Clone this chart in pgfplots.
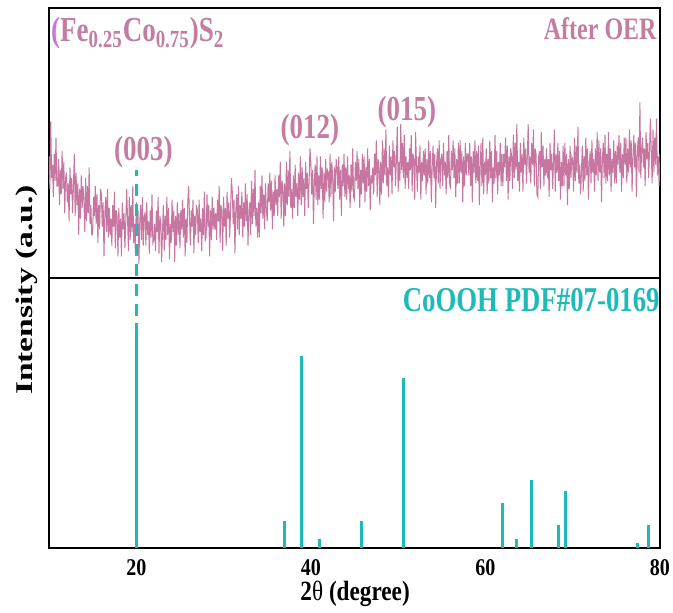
\documentclass[border=0pt]{standalone}
\usepackage{fontspec}
\setmainfont{Liberation Serif}
\usepackage{graphicx}
\usepackage{pgfplots}
\pgfplotsset{compat=1.18}
\definecolor{mauve}{RGB}{198,118,160}
\definecolor{mauvetxt}{RGB}{196,124,160}
\definecolor{violetp}{RGB}{200,120,220}
\definecolor{tealc}{RGB}{30,186,186}
\newcommand{\st}[1]{\scalebox{1}[1.3]{#1}}
\newcommand{\sts}[1]{\scalebox{1}[1.2]{#1}}
\begin{document}
\begin{tikzpicture}
\useasboundingbox (-24.5pt,-32.5pt) rectangle (312pt,274pt);
\begin{axis}[name=top, at={(0pt,135pt)}, anchor=south west, scale only axis,
  width=305.5pt, height=135pt, xmin=10, xmax=80, ymin=0, ymax=1,
  xtick=\empty, ytick=\empty, axis line style={line width=1.1pt}]
\addplot[mauve, line width=0.5pt] coordinates {
(10.0,.45)(10.1,.33)(10.2,.58)(10.3,.37)(10.4,.42)(10.5,.30)(10.6,.46)(10.7,.36)(10.8,.52)(10.9,.34)
(11.0,.34)(11.1,.44)(11.2,.27)(11.3,.40)(11.4,.31)(11.5,.47)(11.6,.33)(11.7,.43)(11.8,.24)(11.9,.37)
(12.0,.39)(12.1,.28)(12.2,.35)(12.3,.21)(12.4,.41)(12.5,.31)(12.6,.37)(12.7,.24)(12.8,.34)(12.9,.46)
(13.0,.23)(13.1,.39)(13.2,.27)(13.3,.35)(13.4,.16)(13.5,.33)(13.6,.22)(13.7,.38)(13.8,.26)(13.9,.34)
(14.0,.29)(14.1,.17)(14.2,.37)(14.3,.21)(14.4,.34)(14.5,.24)(14.6,.41)(14.7,.20)(14.8,.27)(14.9,.16)
(15.0,.16)(15.1,.30)(15.2,.23)(15.3,.34)(15.4,.20)(15.5,.31)(15.6,.13)(15.7,.27)(15.8,.18)(15.9,.33)
(16.0,.31)(16.1,.19)(16.2,.28)(16.3,.08)(16.4,.24)(16.5,.30)(16.6,.17)(16.7,.33)(16.8,.15)(16.9,.26)
(17.0,.16)(17.1,.22)(17.2,.12)(17.3,.27)(17.4,.19)(17.5,.32)(17.6,.11)(17.7,.25)(17.8,.23)(17.9,.08)
(18.0,.26)(18.1,.15)(18.2,.22)(18.3,.08)(18.4,.28)(18.5,.18)(18.6,.24)(18.7,.11)(18.8,.21)(18.9,.33)
(19.0,.22)(19.1,.10)(19.2,.30)(19.3,.14)(19.4,.27)(19.5,.17)(19.6,.34)(19.7,.13)(19.8,.20)(19.9,.09)
(20.0,.28)(20.1,.16)(20.2,.25)(20.3,.05)(20.4,.21)(20.5,.27)(20.6,.14)(20.7,.30)(20.8,.12)(20.9,.23)
(21.0,.24)(21.1,.12)(21.2,.28)(21.3,.16)(21.4,.21)(21.5,.09)(21.6,.25)(21.7,.15)(21.8,.31)(21.9,.13)
(22.0,.14)(22.1,.20)(22.2,.10)(22.3,.25)(22.4,.17)(22.5,.30)(22.6,.09)(22.7,.23)(22.8,.21)(22.9,.06)
(23.0,.17)(23.1,.27)(23.2,.10)(23.3,.23)(23.4,.14)(23.5,.30)(23.6,.16)(23.7,.26)(23.8,.07)(23.9,.20)
(24.0,.13)(24.1,.29)(24.2,.17)(24.3,.25)(24.4,.06)(24.5,.23)(24.6,.12)(24.7,.28)(24.8,.16)(24.9,.24)
(25.0,.11)(25.1,.25)(25.2,.18)(25.3,.29)(25.4,.15)(25.5,.26)(25.6,.08)(25.7,.22)(25.8,.13)(25.9,.28)
(26.0,.34)(26.1,.22)(26.2,.12)(26.3,.25)(26.4,.19)(26.5,.29)(26.6,.09)(26.7,.23)(26.8,.16)(26.9,.27)
(27.0,.25)(27.1,.13)(27.2,.29)(27.3,.17)(27.4,.22)(27.5,.10)(27.6,.26)(27.7,.16)(27.8,.32)(27.9,.14)
(28.0,.15)(28.1,.31)(28.2,.19)(28.3,.27)(28.4,.08)(28.5,.25)(28.6,.14)(28.7,.30)(28.8,.18)(28.9,.26)
(29.0,.18)(29.1,.24)(29.2,.14)(29.3,.29)(29.4,.21)(29.5,.34)(29.6,.13)(29.7,.27)(29.8,.25)(29.9,.10)
(30.0,.30)(30.1,.19)(30.2,.26)(30.3,.12)(30.4,.32)(30.5,.22)(30.6,.28)(30.7,.15)(30.8,.25)(30.9,.37)
(31.0,.32)(31.1,.20)(31.2,.29)(31.3,.09)(31.4,.25)(31.5,.31)(31.6,.18)(31.7,.34)(31.8,.16)(31.9,.27)
(32.0,.22)(32.1,.32)(32.2,.15)(32.3,.28)(32.4,.19)(32.5,.35)(32.6,.21)(32.7,.31)(32.8,.12)(32.9,.25)
(33.0,.28)(33.1,.16)(33.2,.36)(33.3,.20)(33.4,.33)(33.5,.23)(33.6,.40)(33.7,.19)(33.8,.26)(33.9,.15)
(34.0,.28)(34.1,.15)(34.2,.34)(34.3,.24)(34.4,.38)(34.5,.22)(34.6,.31)(34.7,.18)(34.8,.35)(34.9,.25)
(35.0,.21)(35.1,.35)(35.2,.28)(35.3,.39)(35.4,.25)(35.5,.36)(35.6,.18)(35.7,.32)(35.8,.23)(35.9,.38)
(36.0,.27)(36.1,.33)(36.2,.23)(36.3,.38)(36.4,.30)(36.5,.43)(36.6,.22)(36.7,.36)(36.8,.34)(36.9,.19)
(37.0,.35)(37.1,.23)(37.2,.43)(37.3,.27)(37.4,.40)(37.5,.30)(37.6,.47)(37.7,.26)(37.8,.33)(37.9,.22)
(38.0,.38)(38.1,.26)(38.2,.42)(38.3,.30)(38.4,.35)(38.5,.23)(38.6,.39)(38.7,.29)(38.8,.45)(38.9,.27)
(39.0,.41)(39.1,.30)(39.2,.37)(39.3,.23)(39.4,.43)(39.5,.33)(39.6,.39)(39.7,.26)(39.8,.36)(39.9,.48)
(40.0,.43)(40.1,.31)(40.2,.40)(40.3,.20)(40.4,.36)(40.5,.42)(40.6,.29)(40.7,.45)(40.8,.27)(40.9,.38)
(41.0,.29)(41.1,.45)(41.2,.33)(41.3,.41)(41.4,.22)(41.5,.39)(41.6,.28)(41.7,.44)(41.8,.32)(41.9,.40)
(42.0,.39)(42.1,.28)(42.2,.46)(42.3,.30)(42.4,.43)(42.5,.37)(42.6,.21)(42.7,.41)(42.8,.32)(42.9,.44)
(43.0,.41)(43.1,.33)(43.2,.45)(43.3,.29)(43.4,.40)(43.5,.23)(43.6,.42)(43.7,.34)(43.8,.46)(43.9,.30)
(44.0,.41)(44.1,.29)(44.2,.45)(44.3,.33)(44.4,.38)(44.5,.26)(44.6,.42)(44.7,.32)(44.8,.48)(44.9,.30)
(45.0,.29)(45.1,.43)(45.2,.36)(45.3,.47)(45.4,.33)(45.5,.44)(45.6,.26)(45.7,.40)(45.8,.31)(45.9,.46)
(46.0,.35)(46.1,.45)(46.2,.28)(46.3,.41)(46.4,.32)(46.5,.48)(46.6,.34)(46.7,.44)(46.8,.25)(46.9,.38)
(47.0,.35)(47.1,.41)(47.2,.31)(47.3,.46)(47.4,.38)(47.5,.51)(47.6,.30)(47.7,.44)(47.8,.42)(47.9,.27)
(48.0,.43)(48.1,.31)(48.2,.51)(48.3,.35)(48.4,.48)(48.5,.38)(48.6,.55)(48.7,.34)(48.8,.41)(48.9,.30)
(49.0,.49)(49.1,.38)(49.2,.45)(49.3,.31)(49.4,.51)(49.5,.41)(49.6,.47)(49.7,.34)(49.8,.44)(49.9,.56)
(50.0,.32)(50.1,.43)(50.2,.36)(50.3,.57)(50.4,.40)(50.5,.50)(50.6,.37)(50.7,.53)(50.8,.33)(50.9,.45)
(51.0,.37)(51.1,.43)(51.2,.33)(51.3,.48)(51.4,.40)(51.5,.53)(51.6,.32)(51.7,.46)(51.8,.44)(51.9,.29)
(52.0,.54)(52.1,.42)(52.2,.32)(52.3,.45)(52.4,.39)(52.5,.49)(52.6,.29)(52.7,.43)(52.8,.36)(52.9,.47)
(53.0,.38)(53.1,.48)(53.2,.31)(53.3,.44)(53.4,.35)(53.5,.51)(53.6,.37)(53.7,.47)(53.8,.28)(53.9,.41)
(54.0,.49)(54.1,.37)(54.2,.46)(54.3,.26)(54.4,.42)(54.5,.48)(54.6,.35)(54.7,.51)(54.8,.33)(54.9,.44)
(55.0,.46)(55.1,.34)(55.2,.50)(55.3,.38)(55.4,.43)(55.5,.31)(55.6,.47)(55.7,.37)(55.8,.53)(55.9,.35)
(56.0,.33)(56.1,.47)(56.2,.40)(56.3,.51)(56.4,.37)(56.5,.48)(56.6,.30)(56.7,.44)(56.8,.35)(56.9,.50)
(57.0,.35)(57.1,.51)(57.2,.39)(57.3,.47)(57.4,.28)(57.5,.45)(57.6,.34)(57.7,.50)(57.8,.38)(57.9,.46)
(58.0,.46)(58.1,.38)(58.2,.50)(58.3,.34)(58.4,.45)(58.5,.28)(58.6,.47)(58.7,.39)(58.8,.51)(58.9,.35)
(59.0,.47)(59.1,.36)(59.2,.49)(59.3,.27)(59.4,.41)(59.5,.50)(59.6,.34)(59.7,.52)(59.8,.31)(59.9,.43)
(60.0,.38)(60.1,.48)(60.2,.31)(60.3,.44)(60.4,.35)(60.5,.51)(60.6,.37)(60.7,.47)(60.8,.28)(60.9,.41)
(61.0,.35)(61.1,.53)(61.2,.37)(61.3,.47)(61.4,.31)(61.5,.43)(61.6,.38)(61.7,.50)(61.8,.34)(61.9,.46)
(62.0,.34)(62.1,.46)(62.2,.41)(62.3,.52)(62.4,.36)(62.5,.49)(62.6,.29)(62.7,.45)(62.8,.36)(62.9,.48)
(63.0,.45)(63.1,.33)(63.2,.53)(63.3,.37)(63.4,.50)(63.5,.40)(63.6,.57)(63.7,.36)(63.8,.43)(63.9,.32)
(64.0,.50)(64.1,.39)(64.2,.46)(64.3,.32)(64.4,.52)(64.5,.42)(64.6,.48)(64.7,.35)(64.8,.45)(64.9,.57)
(65.0,.39)(65.1,.45)(65.2,.35)(65.3,.50)(65.4,.42)(65.5,.55)(65.6,.34)(65.7,.48)(65.8,.46)(65.9,.31)
(66.0,.30)(66.1,.45)(66.2,.47)(66.3,.33)(66.4,.54)(66.5,.41)(66.6,.49)(66.7,.34)(66.8,.44)(66.9,.38)
(67.0,.48)(67.1,.37)(67.2,.44)(67.3,.30)(67.4,.50)(67.5,.40)(67.6,.46)(67.7,.33)(67.8,.43)(67.9,.55)
(68.0,.32)(68.1,.46)(68.2,.39)(68.3,.50)(68.4,.36)(68.5,.47)(68.6,.29)(68.7,.43)(68.8,.34)(68.9,.49)
(69.0,.34)(69.1,.50)(69.2,.38)(69.3,.46)(69.4,.27)(69.5,.44)(69.6,.33)(69.7,.49)(69.8,.37)(69.9,.45)
(70.0,.44)(70.1,.32)(70.2,.52)(70.3,.36)(70.4,.49)(70.5,.39)(70.6,.56)(70.7,.35)(70.8,.42)(70.9,.31)
(71.0,.39)(71.1,.49)(71.2,.32)(71.3,.45)(71.4,.36)(71.5,.52)(71.6,.38)(71.7,.48)(71.8,.29)(71.9,.42)
(72.0,.47)(72.1,.35)(72.2,.51)(72.3,.39)(72.4,.44)(72.5,.32)(72.6,.48)(72.7,.38)(72.8,.54)(72.9,.36)
(73.0,.51)(73.1,.39)(73.2,.48)(73.3,.28)(73.4,.44)(73.5,.50)(73.6,.37)(73.7,.53)(73.8,.35)(73.9,.46)
(74.0,.36)(74.1,.54)(74.2,.38)(74.3,.48)(74.4,.32)(74.5,.44)(74.6,.39)(74.7,.51)(74.8,.35)(74.9,.47)
(75.0,.35)(75.1,.49)(75.2,.42)(75.3,.53)(75.4,.39)(75.5,.50)(75.6,.32)(75.7,.46)(75.8,.37)(75.9,.52)
(76.0,.42)(76.1,.52)(76.2,.35)(76.3,.48)(76.4,.39)(76.5,.55)(76.6,.41)(76.7,.51)(76.8,.32)(76.9,.45)
(77.0,.53)(77.1,.41)(77.2,.50)(77.3,.30)(77.4,.46)(77.5,.52)(77.6,.39)(77.7,.65)(77.8,.37)(77.9,.48)
(78.0,.52)(78.1,.41)(78.2,.48)(78.3,.34)(78.4,.54)(78.5,.44)(78.6,.50)(78.7,.37)(78.8,.47)(78.9,.59)
(79.0,.47)(79.1,.35)(79.2,.55)(79.3,.39)(79.4,.52)(79.5,.42)(79.6,.59)(79.7,.38)(79.8,.45)(79.9,.34)
(80.0,.46)
};
\node[anchor=north west, inner sep=0pt, font=\bfseries\fontsize{13.5}{15}\selectfont, text=mauvetxt]
  at (rel axis cs:0.003,0.967) {\st{{\color{violetp}(}Fe\textsubscript{0.25}Co\textsubscript{0.75})S\textsubscript{2}}};
\node[anchor=north east, inner sep=0pt, font=\bfseries\fontsize{12}{14}\selectfont, text=mauvetxt]
  at (rel axis cs:0.995,0.967) {\st{After OER}};
\node[inner sep=0pt, font=\bfseries\fontsize{13.5}{15}\selectfont, text=mauvetxt]
  at (axis cs:20.8,0.467) {\st{(003)}};
\node[inner sep=0pt, font=\bfseries\fontsize{13.5}{15}\selectfont, text=mauvetxt]
  at (axis cs:39.9,0.548) {\st{(012)}};
\node[inner sep=0pt, font=\bfseries\fontsize{13.5}{15}\selectfont, text=mauvetxt]
  at (axis cs:51.0,0.615) {\st{(015)}};
\end{axis}
\begin{axis}[name=bot, at={(0pt,0pt)}, anchor=south west, scale only axis,
  width=305.5pt, height=135pt, xmin=10, xmax=80, ymin=0, ymax=1,
  xtick={20,40,60,80}, xticklabels={\sts{20},\sts{40},\sts{60},\sts{80}},
  major tick length=0pt, ytick=\empty, axis line style={line width=1.1pt},
  xticklabel style={font=\bfseries\fontsize{10}{12}\selectfont, inner sep=0pt, anchor=north, yshift=-5.5pt},
  clip=false]
\addplot[tealc, line width=1.5pt, ycomb, no marks] coordinates {
(20.0,0.833)(37.0,0.10)(38.9,0.71)(41.0,0.035)(45.8,0.10)(50.6,0.63)
(61.9,0.167)(63.6,0.035)(65.3,0.25)(68.4,0.084)(69.2,0.21)(77.4,0.019)(78.7,0.084)};
\addplot[tealc, line width=1.5pt, dash pattern=on 6pt off 4pt, no marks] coordinates {(20,0.86)(20,1.40)};
\node[anchor=east, inner sep=0pt, font=\bfseries\fontsize{13.4}{15}\selectfont, text=tealc]
  at (rel axis cs:1.0,0.918) {\st{CoOOH PDF\#07-0169}};
\node[anchor=north, inner sep=0pt, yshift=-16.5pt, font=\fontsize{11.6}{14}\selectfont]
  at (rel axis cs:0.501,0) {\sts{\textbf{2}θ \textbf{(degree)}}};
\end{axis}
\node[rotate=90, inner sep=0pt, font=\bfseries\fontsize{12}{14}\selectfont] at (-11pt,129pt)
  {\scalebox{1.4}[1]{Intensity (a.u.)}};
\end{tikzpicture}
\end{document}
